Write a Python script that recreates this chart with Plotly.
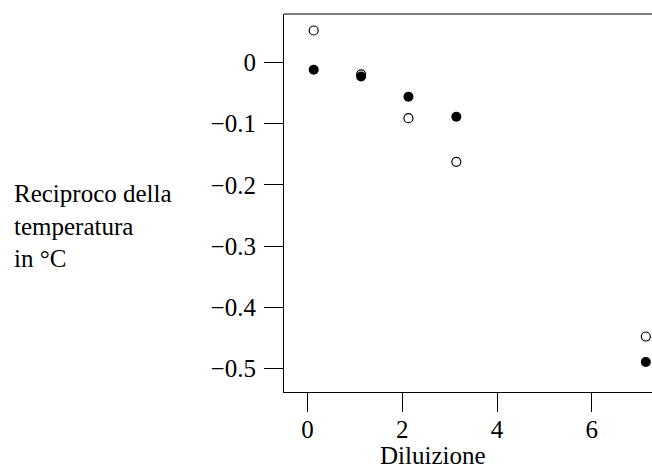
import plotly.graph_objects as go

dilution = [0.13, 1.13, 2.13, 3.14, 7.14]
temp_open = [0.0517, -0.020, -0.0913, -0.1625, -0.4475]
temp_filled = [-0.0124, -0.0234, -0.0565, -0.089, -0.489]

x_ticks = [0, 2, 4, 6]
y_ticks = [0, -0.1, -0.2, -0.3, -0.4, -0.5]
y_tick_text = ["0", "\u22120.1", "\u22120.2", "\u22120.3", "\u22120.4", "\u22120.5"]

FONT = "Liberation Serif"
W, H = 652, 468
L, R, T, B = 284, 0, 14, 76

fig = go.Figure()
fig.add_trace(go.Scatter(
    x=dilution, y=temp_open, mode="markers",
    marker=dict(symbol="circle-open", size=9, color="black", line=dict(width=1.2, color="black")),
    showlegend=False, cliponaxis=False))
fig.add_trace(go.Scatter(
    x=dilution, y=temp_filled, mode="markers",
    marker=dict(symbol="circle", size=10, color="black"),
    showlegend=False, cliponaxis=False))

fig.update_layout(
    width=W, height=H,
    margin=dict(l=L, r=R, t=T, b=B, pad=0),
    paper_bgcolor="white", plot_bgcolor="white",
    font=dict(family=FONT, size=25, color="black"),
    xaxis=dict(range=[-0.497, 7.27], tickvals=x_ticks, ticks="outside", ticklen=19,
               tickwidth=1.2, tickcolor="black", showline=True, linecolor="black",
               linewidth=1.2, showgrid=False, zeroline=False, ticklabelstandoff=-4),
    yaxis=dict(range=[-0.538, 0.0786], tickvals=y_ticks, ticktext=y_tick_text,
               ticks="outside", ticklen=19, tickwidth=1.2, tickcolor="black",
               showline=True, linecolor="black", linewidth=1.2, showgrid=False,
               zeroline=False, ticklabelstandoff=3),
)
fig.add_shape(type="line", xref="paper", yref="paper", x0=0, x1=1, y0=1, y1=1,
              line=dict(color="black", width=1.2))

pw = W - L - R
fig.add_annotation(text="Diluizione", xref="paper", yref="paper",
                   x=(433 - L) / pw, y=-(455 - (H - B)) / (H - T - B),
                   xanchor="center", yanchor="middle", showarrow=False,
                   font=dict(family=FONT, size=25))
fig.add_annotation(text="Reciproco della<br>temperatura<br>in \u00b0C", xref="paper", yref="paper",
                   x=(12 - L) / pw, y=1 - (226 - T) / (H - T - B),
                   xanchor="left", yanchor="middle", align="left", showarrow=False,
                   font=dict(family=FONT, size=25))

fig.write_html("out.html", config={"displayModeBar": False},
               post_script="document.body.style.margin='0';document.body.style.overflow='hidden';")
